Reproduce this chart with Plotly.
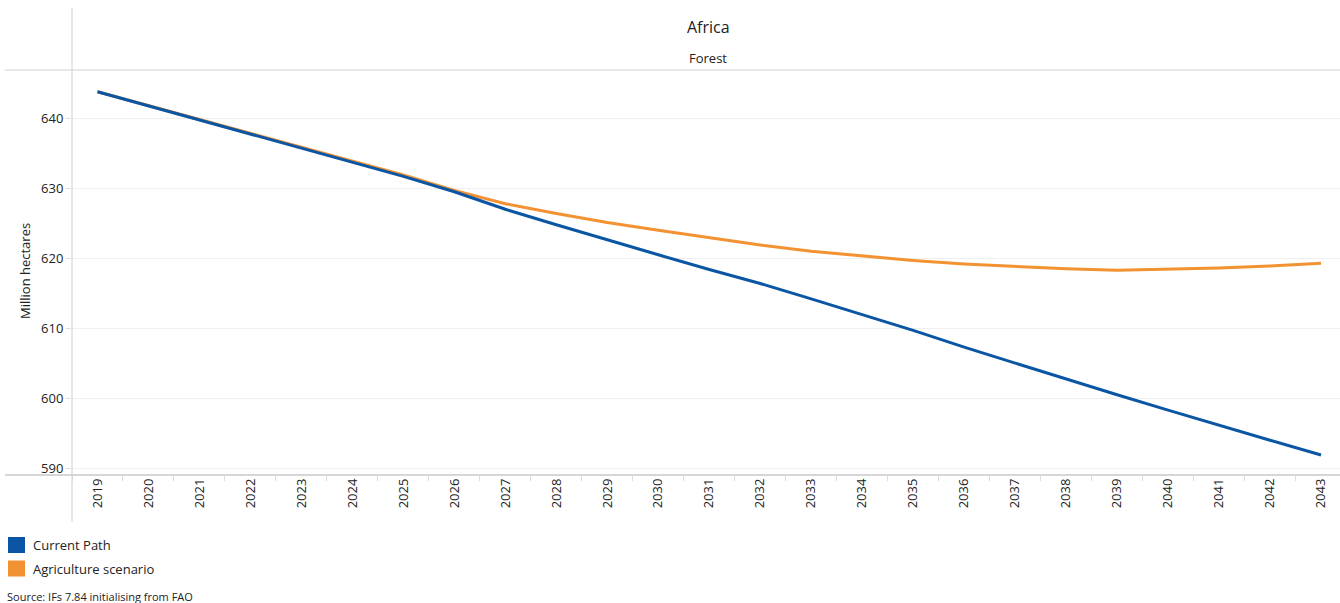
import plotly.graph_objects as go

# Forest area in Africa, million hectares
years = list(range(2019, 2044))
current_path = [643.8, 641.8, 639.8, 637.8, 635.8, 633.8, 631.7, 629.5, 627.0, 624.8,
                622.6, 620.5, 618.4, 616.4, 614.2, 612.0, 609.7, 607.3, 605.0, 602.7,
                600.5, 598.3, 596.1, 594.0, 591.9]
agriculture = [643.8, 641.8, 639.8, 637.8, 635.8, 633.9, 631.9, 629.7, 627.8, 626.4,
               625.1, 624.0, 622.9, 621.9, 621.0, 620.3, 619.7, 619.2, 618.8, 618.5,
               618.3, 618.4, 618.6, 618.9, 619.3]
y_ticks = [590, 600, 610, 620, 630, 640]
series_names = ["Current Path", "Agriculture scenario"]

BLUE = "#0B56A4"
ORANGE = "#F39232"
FONT = "Open Sans"
TXT = "#222222"

W, H = 1340, 603
L, R, T, B = 72, 0, 70, 128
pw, ph = W - L - R, H - T - B


def px(x):
    return (x - L) / pw


def py(y):
    return (H - B - y) / ph


fig = go.Figure()

fig.add_trace(go.Scatter(x=years, y=agriculture, mode="lines",
                         line=dict(color=ORANGE, width=3), showlegend=False,
                         name=series_names[1]))
fig.add_trace(go.Scatter(x=years, y=current_path, mode="lines",
                         line=dict(color=BLUE, width=3), showlegend=False,
                         name=series_names[0]))

shapes = [
    # header separator
    dict(type="line", xref="paper", yref="paper", x0=px(5), x1=1, y0=1, y1=1,
         line=dict(color="#d0d0d0", width=1)),
    # left separator
    dict(type="line", xref="paper", yref="paper", x0=0, x1=0, y0=py(8), y1=py(522),
         line=dict(color="#d0d0d0", width=1)),
    # category axis line
    dict(type="line", xref="paper", yref="paper", x0=px(5), x1=1, y0=0, y1=0,
         line=dict(color="#c8c8c8", width=1.5)),
]

annotations = [
    dict(text="Africa", xref="paper", yref="paper", x=px(708), y=py(27),
         showarrow=False, font=dict(size=16, color=TXT), xanchor="center", yanchor="middle"),
    dict(text="Forest", xref="paper", yref="paper", x=px(708), y=py(58),
         showarrow=False, font=dict(size=13, color=TXT), xanchor="center", yanchor="middle"),
    dict(text="Million hectares", xref="paper", yref="paper", x=px(25), y=py(271),
         textangle=-90, showarrow=False, font=dict(size=13, color=TXT),
         xanchor="center", yanchor="middle"),
    dict(text="Source: IFs 7.84 initialising from FAO", xref="paper", yref="paper",
         x=px(5), y=py(596), showarrow=False, font=dict(size=11, color=TXT),
         xanchor="left", yanchor="middle"),
]

# legend: square swatch plus label for each series
for i, (name, col) in enumerate(zip(series_names, [BLUE, ORANGE])):
    cy = 545 + i * 23.5
    shapes.append(dict(type="rect", xref="paper", yref="paper",
                       x0=px(8), x1=px(25), y0=py(cy - 8), y1=py(cy + 8),
                       fillcolor=col, line=dict(width=0)))
    annotations.append(dict(text=name, xref="paper", yref="paper", x=px(31), y=py(cy),
                            showarrow=False, font=dict(size=13, color=TXT),
                            xanchor="left", yanchor="middle"))

fig.update_layout(
    width=W, height=H,
    margin=dict(l=L, r=R, t=T, b=B, autoexpand=False),
    paper_bgcolor="white", plot_bgcolor="white",
    font=dict(family=FONT, color=TXT, size=12),
    showlegend=False,
    shapes=shapes,
    annotations=annotations,
    xaxis=dict(
        range=[2018.5, 2043 + (W - 1321) / 51.0],
        tickmode="array", tickvals=years, ticktext=[str(y) for y in years],
        tickangle=-90, ticks="", showgrid=False, zeroline=False, showline=False,
        tickfont=dict(size=13, color=TXT),
        minor=dict(tickmode="linear", tick0=2018.5, dtick=1, ticks="outside",
                   ticklen=5, tickcolor="#dddddd", showgrid=False),
        fixedrange=True,
    ),
    yaxis=dict(
        range=[589.04, 646.9],
        tickmode="array", tickvals=y_ticks,
        ticks="outside", ticklen=5, tickcolor="#e0e0e0",
        showgrid=True, gridcolor="#efefef", gridwidth=1,
        zeroline=False, showline=False,
        tickfont=dict(size=13, color=TXT),
        fixedrange=True,
    ),
)

fig.write_html("out.html")
